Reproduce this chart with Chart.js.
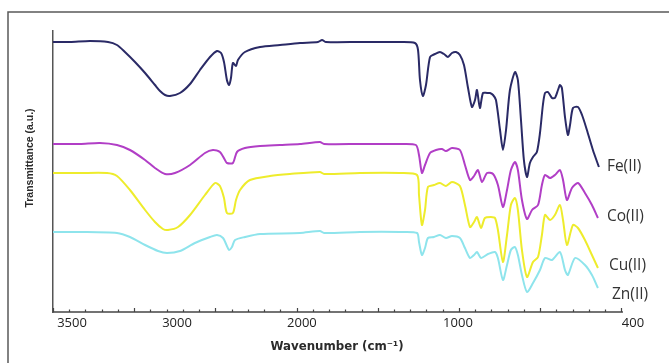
<!DOCTYPE html>
<html>
<head>
<meta charset="utf-8">
<style>
  html, body { margin: 0; padding: 0; background: #fff; }
  #wrap { width: 669px; height: 363px; position: relative; }
</style>
<script src="https://cdn.jsdelivr.net/npm/chart.js@4.4.1/dist/chart.umd.min.js"></script>
</head>
<body>
<div id="wrap"><canvas id="c" width="669" height="363"></canvas></div>
<script>
// FTIR spectra of the metal complexes: [wavenumber (cm-1), transmittance (a.u., offset traces)]
const seriesNames = ['Fe(II)', 'Co(II)', 'Cu(II)', 'Zn(II)'];

const feII = [[4000,1.350],[3895,1.350],[3772,1.355],[3661,1.350],[3606,1.335],[3557,1.300],[3495,1.250],[3433,1.195],[3372,1.135],[3341,1.105],[3310,1.085],[3280,1.080],[3218,1.095],[3156,1.140],[3095,1.210],[3033,1.275],[2990,1.305],[2965,1.295],[2947,1.250],[2929,1.160],[2916,1.135],[2904,1.170],[2892,1.245],[2873,1.230],[2861,1.260],[2818,1.300],[2725,1.325],[2602,1.335],[2479,1.345],[2368,1.350],[2343,1.360],[2319,1.350],[2109,1.350],[1863,1.350],[1771,1.345],[1752,1.310],[1740,1.160],[1722,1.080],[1703,1.135],[1678,1.275],[1648,1.290],[1617,1.300],[1592,1.290],[1568,1.275],[1543,1.295],[1518,1.300],[1494,1.285],[1469,1.235],[1444,1.120],[1420,1.025],[1401,1.060],[1389,1.110],[1371,1.020],[1352,1.095],[1327,1.095],[1309,1.095],[1290,1.085],[1272,1.060],[1247,0.910],[1229,0.810],[1210,0.910],[1186,1.110],[1155,1.200],[1137,1.160],[1118,0.960],[1100,0.760],[1081,0.675],[1063,0.745],[1044,0.775],[1020,0.800],[1001,0.895],[983,1.035],[970,1.095],[952,1.100],[927,1.070],[909,1.070],[890,1.110],[878,1.135],[866,1.120],[847,0.975],[829,0.885],[816,0.935],[798,1.020],[767,1.025],[742,0.985],[712,0.910],[675,0.810],[638,0.725]];

const coII = [[4000,0.840],[3834,0.840],[3711,0.845],[3606,0.835],[3526,0.810],[3433,0.760],[3372,0.720],[3310,0.690],[3249,0.695],[3156,0.735],[3064,0.795],[3015,0.810],[2972,0.800],[2941,0.760],[2929,0.745],[2892,0.745],[2867,0.800],[2818,0.820],[2725,0.830],[2602,0.835],[2479,0.840],[2356,0.850],[2331,0.840],[2109,0.840],[1863,0.840],[1765,0.835],[1746,0.785],[1728,0.695],[1709,0.735],[1678,0.795],[1641,0.810],[1605,0.815],[1580,0.805],[1543,0.820],[1494,0.810],[1463,0.735],[1432,0.660],[1407,0.680],[1383,0.710],[1358,0.650],[1327,0.695],[1290,0.690],[1260,0.635],[1229,0.525],[1204,0.610],[1180,0.710],[1155,0.750],[1137,0.710],[1112,0.560],[1081,0.465],[1050,0.510],[1013,0.535],[989,0.635],[970,0.685],[939,0.670],[909,0.685],[878,0.710],[859,0.660],[835,0.560],[804,0.620],[767,0.645],[724,0.595],[681,0.535],[644,0.470]];

const cuII = [[4000,0.695],[3834,0.695],[3667,0.695],[3606,0.680],[3526,0.610],[3433,0.510],[3372,0.450],[3323,0.415],[3292,0.410],[3230,0.425],[3156,0.485],[3064,0.585],[3002,0.645],[2972,0.630],[2947,0.570],[2929,0.495],[2892,0.495],[2873,0.560],[2848,0.610],[2787,0.660],[2664,0.680],[2541,0.690],[2356,0.700],[2331,0.690],[2109,0.695],[1863,0.695],[1758,0.685],[1746,0.585],[1728,0.435],[1709,0.510],[1691,0.625],[1654,0.635],[1617,0.645],[1580,0.630],[1543,0.650],[1494,0.630],[1463,0.535],[1432,0.425],[1407,0.450],[1389,0.475],[1364,0.420],[1340,0.470],[1303,0.475],[1278,0.470],[1260,0.410],[1229,0.250],[1204,0.385],[1180,0.535],[1155,0.570],[1137,0.510],[1112,0.310],[1081,0.175],[1044,0.250],[1013,0.275],[989,0.385],[970,0.485],[939,0.460],[909,0.485],[878,0.535],[859,0.460],[835,0.335],[798,0.435],[767,0.420],[724,0.360],[681,0.285],[644,0.220]];

const znII = [[4000,0.400],[3834,0.400],[3606,0.395],[3526,0.375],[3433,0.335],[3353,0.305],[3298,0.295],[3218,0.305],[3126,0.345],[3033,0.375],[2990,0.385],[2953,0.370],[2929,0.330],[2916,0.310],[2898,0.325],[2879,0.360],[2818,0.375],[2725,0.390],[2479,0.395],[2356,0.405],[2331,0.395],[2109,0.400],[1863,0.400],[1758,0.395],[1746,0.350],[1728,0.285],[1709,0.320],[1691,0.370],[1654,0.375],[1617,0.385],[1580,0.370],[1543,0.380],[1494,0.370],[1463,0.320],[1432,0.270],[1407,0.285],[1389,0.300],[1364,0.270],[1321,0.290],[1278,0.300],[1260,0.270],[1229,0.160],[1204,0.235],[1180,0.310],[1155,0.325],[1137,0.285],[1112,0.185],[1081,0.100],[1044,0.145],[1001,0.210],[970,0.270],[927,0.260],[878,0.300],[847,0.210],[829,0.185],[785,0.270],[724,0.235],[681,0.185],[644,0.120]];

// printed axis labels and the wavenumber under each one
const tickLabels = ['3500', '3000', '2000', '1000', '400'];
const tickLabelAt = [3883, 3236, 2467, 1506, 428];

// axis line extent and tick-mark spacing (cm-1)
const axisStart = 4000;
const axisEnd = 490;
const minorStep = 100;
const majorStep = 500;

const seriesData = [feII, coII, cuII, znII];
const lineColors = ['#2a2a66', '#b13ec6', '#eeec2c', '#8ee4ec'];
const labelOffsets = [[8, 0], [9, -1], [11, -2], [14, 7]];

const decor = {
  id: 'decor',
  beforeDraw(chart) {
    const ctx = chart.ctx;
    ctx.save();
    ctx.fillStyle = '#fff';
    ctx.fillRect(0, 0, chart.width, chart.height);
    // figure frame
    ctx.strokeStyle = '#5a5a5a';
    ctx.lineWidth = 1.5;
    ctx.beginPath();
    ctx.moveTo(8, chart.height);
    ctx.lineTo(8, 12);
    ctx.lineTo(chart.width, 12);
    ctx.stroke();
    ctx.restore();
  },
  afterDraw(chart) {
    const ctx = chart.ctx;
    const xs = chart.scales.x;
    const area = chart.chartArea;
    const y0 = area.bottom;
    ctx.save();
    // x axis line with inward tick marks
    ctx.strokeStyle = '#444';
    ctx.lineWidth = 1.5;
    const xa = xs.getPixelForValue(axisStart);
    const xb = xs.getPixelForValue(axisEnd);
    ctx.beginPath();
    ctx.moveTo(xa, y0);
    ctx.lineTo(xb, y0);
    ctx.stroke();
    ctx.lineWidth = 1.2;
    for (let w = axisStart; w >= axisEnd; w -= minorStep) {
      const px = Math.round(xs.getPixelForValue(w)) + 0.5;
      const len = (w % majorStep === 0) ? 4 : 2.5;
      ctx.beginPath();
      ctx.moveTo(px, y0);
      ctx.lineTo(px, y0 - len);
      ctx.stroke();
    }
    // axis titles
    ctx.fillStyle = '#2b2b2b';
    ctx.textAlign = 'center';
    ctx.textBaseline = 'middle';
    ctx.font = 'bold 11.8px "DejaVu Sans"';
    ctx.fillText('Wavenumber (cm\u207B\u00B9)', (xa + xb) / 2 - 1, 347);
    ctx.save();
    ctx.translate(30, 158);
    ctx.rotate(-Math.PI / 2);
    ctx.font = 'bold 10.5px "Liberation Sans"';
    ctx.fillText('Transmittance (a.u.)', 0, 0);
    ctx.restore();
    // trace names at the end of each spectrum
    ctx.font = '15.5px "Open Sans"';
    ctx.fillStyle = '#333';
    ctx.textAlign = 'left';
    chart.data.datasets.forEach((ds, i) => {
      const pts = chart.getDatasetMeta(i).data;
      const last = pts[pts.length - 1];
      ctx.fillText(ds.label, last.x + labelOffsets[i][0], last.y + labelOffsets[i][1]);
    });
    ctx.restore();
  }
};

new Chart(document.getElementById('c'), {
  type: 'line',
  data: {
    datasets: seriesData.map((arr, i) => ({
      label: seriesNames[i],
      data: arr.map(p => ({ x: p[0], y: p[1] })),
      borderColor: lineColors[i],
      borderWidth: 2,
      pointRadius: 0,
      tension: 0.25,
      fill: false
    }))
  },
  options: {
    responsive: false,
    animation: false,
    devicePixelRatio: 1,
    layout: { padding: { left: 53, right: 35.5, top: 31, bottom: 0 } },
    plugins: { legend: { display: false }, tooltip: { enabled: false } },
    scales: {
      x: {
        type: 'linear',
        reverse: true,
        min: 425,
        max: 4000,
        grid: { display: false, drawTicks: false },
        border: { display: false },
        afterBuildTicks(scale) {
          scale.ticks = tickLabelAt.map(v => ({ value: v }));
        },
        afterFit(scale) { scale.height = 51; },
        ticks: {
          autoSkip: false,
          maxRotation: 0,
          padding: 3,
          color: '#222',
          font: { family: 'Open Sans', size: 13 },
          callback: (v, i) => tickLabels[i]
        }
      },
      y: {
        min: 0,
        max: 1.405,
        grid: { display: false, drawTicks: false },
        border: { display: true, color: '#555', width: 1.5 },
        ticks: { display: false },
        afterFit(scale) { scale.width = 0; }
      }
    }
  },
  plugins: [decor]
});
</script>
</body>
</html>
